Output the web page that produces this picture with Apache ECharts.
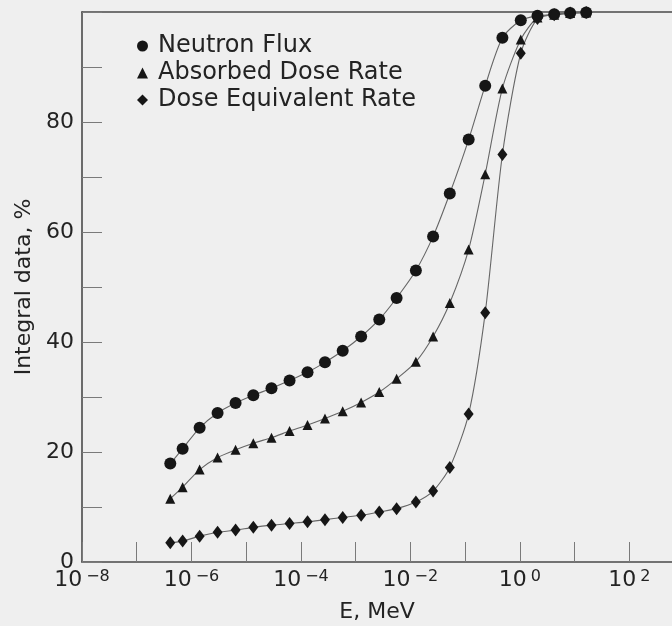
<!DOCTYPE html>
<html><head><meta charset="utf-8">
<script src="https://cdn.jsdelivr.net/npm/echarts@6/dist/echarts.min.js"></script>
<style>html,body{margin:0;padding:0;background:#efefef}#chart{width:672px;height:626px}</style>
</head><body><div id="chart"></div>
<script>
// Energy grid (MeV), shared by all three series
const energies = [4.1e-7, 6.9e-7, 1.41e-6, 3.0e-6, 6.4e-6, 1.35e-5, 2.9e-5, 6.2e-5, 1.32e-4, 2.75e-4,
  5.8e-4, 1.26e-3, 2.7e-3, 5.6e-3, 1.26e-2, 2.6e-2, 5.25e-2, 0.116, 0.233, 0.48,
  1.04, 2.1, 4.24, 8.3, 16.3];
const neutronFlux = [17.9, 20.6, 24.4, 27.1, 28.9, 30.3, 31.6, 33.0, 34.5, 36.3,
  38.4, 41.0, 44.1, 48.0, 53.0, 59.2, 67.0, 76.8, 86.6, 95.3,
  98.5, 99.3, 99.6, 99.8, 99.9];
const absorbedDoseRate = [11.5, 13.6, 16.8, 19.0, 20.4, 21.6, 22.6, 23.8, 24.9, 26.1,
  27.4, 29.0, 30.9, 33.3, 36.4, 41.0, 47.1, 56.8, 70.5, 86.1,
  95.0, 99.0, 99.5, 99.8, 99.9];
const doseEquivalentRate = [3.5, 3.8, 4.7, 5.4, 5.8, 6.3, 6.7, 7.0, 7.3, 7.7,
  8.1, 8.5, 9.1, 9.7, 10.9, 12.9, 17.2, 26.9, 45.3, 74.1,
  92.5, 98.8, 99.5, 99.8, 99.9];
const seriesNames = ['Neutron Flux', 'Absorbed Dose Rate', 'Dose Equivalent Rate'];
const yTickLabels = [0, 20, 40, 60, 80];
const xLabelExponents = [-8, -6, -4, -2, 0, 2];

const FONT = 'DejaVu Sans';
const TEXT = '#232323';
const AXIS = '#4a4a4a';
const TICK = '#7a7a7a';

function xLabel(v) {
  const e = Math.log10(v);
  const r = Math.round(e);
  if (Math.abs(e - r) > 1e-6 || !xLabelExponents.includes(r)) return '';
  const s = r < 0 ? '\u2212' + (-r) : String(r);
  return '{b|10}{s|' + s + '}';
}

function mk(name, vals, symbol, size) {
  return {
    name: name, type: 'line',
    data: energies.map((e, i) => [e, vals[i]]),
    symbol: symbol, symbolSize: size, smooth: 0.25,
    lineStyle: { color: '#666', width: 1.1 },
    itemStyle: { color: '#161616' },
    emphasis: { disabled: true },
    animation: false
  };
}

const chart = echarts.init(document.getElementById('chart'), null, { renderer: 'canvas' });
chart.setOption({
  backgroundColor: '#efefef',
  animation: false,
  grid: { left: 82, right: 0, top: 12, bottom: 64, containLabel: false, outerBoundsMode: 'none' },
  legend: {
    orient: 'vertical', left: 132, top: 29, itemWidth: 11, itemHeight: 11, itemGap: 3,
    textStyle: { fontFamily: FONT, fontSize: 24, color: TEXT, padding: [0, 0, 0, 5] },
    data: [
      { name: seriesNames[0], icon: 'circle' },
      { name: seriesNames[1], icon: 'triangle' },
      { name: seriesNames[2], icon: 'diamond' }
    ]
  },
  xAxis: [{
    type: 'log', logBase: 10, min: 1e-8, max: Math.pow(10, 2.78), interval: 1,
    position: 'bottom',
    axisLine: { show: true, onZero: false, lineStyle: { color: AXIS, width: 1.6 } },
    axisTick: { show: true, inside: true, length: 20, lineStyle: { color: TICK, width: 1 } },
    axisLabel: {
      interval: 0, margin: 7, formatter: xLabel, color: TEXT, fontFamily: FONT,
      rich: {
        b: { fontSize: 22, fontFamily: FONT, color: TEXT },
        s: { fontSize: 16, fontFamily: FONT, color: TEXT, verticalAlign: 'top', padding: [0, 0, 0, 4] }
      }
    },
    splitLine: { show: false },
    name: 'E, MeV', nameLocation: 'middle', nameGap: 39,
    nameTextStyle: { fontFamily: FONT, fontSize: 22, color: TEXT }
  }, {
    type: 'value', position: 'top', min: 0, max: 1,
    axisLine: { show: true, onZero: false, lineStyle: { color: AXIS, width: 1.6 } },
    axisTick: { show: false }, axisLabel: { show: false }, splitLine: { show: false }
  }],
  yAxis: {
    type: 'value', min: 0, max: 100, interval: 10,
    axisLine: { show: true, onZero: false, lineStyle: { color: AXIS, width: 1.6 } },
    axisTick: { show: true, inside: true, length: 20, lineStyle: { color: TICK, width: 1 } },
    axisLabel: {
      margin: 8, fontFamily: FONT, fontSize: 22, color: TEXT,
      formatter: function (v) { return yTickLabels.includes(v) ? String(v) : ''; }
    },
    splitLine: { show: false },
    name: 'Integral data, %', nameLocation: 'middle', nameGap: 44,
    nameTextStyle: { fontFamily: FONT, fontSize: 22, color: TEXT }
  },
  series: [
    mk(seriesNames[0], neutronFlux, 'circle', 12),
    mk(seriesNames[1], absorbedDoseRate, 'triangle', 10),
    mk(seriesNames[2], doseEquivalentRate, 'diamond', [10, 13])
  ]
});
</script>
</body></html>
